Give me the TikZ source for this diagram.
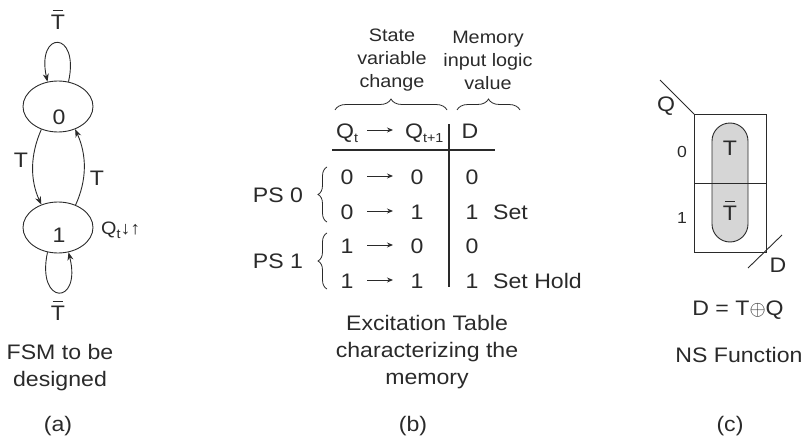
\documentclass[tikz,border=0pt]{standalone}
\usepackage{fontspec}
\setmainfont[FakeStretch=1.1]{Liberation Sans}
\usetikzlibrary{shapes.geometric,arrows.meta,decorations.pathreplacing}
\definecolor{ink}{HTML}{2A2A2A}
\definecolor{pill}{HTML}{D6D6D6}
\newcommand{\tbar}{\ooalign{T\cr\hidewidth\rule[0.86em]{0.5em}{0.055em}\hidewidth\cr}}
\newcommand{\lowsub}[1]{\raisebox{-0.42ex}{\fontsize{13}{13}\selectfont #1}}
\begin{document}
\begin{tikzpicture}[x=1pt,y=-1pt,
  every node/.style={inner sep=0pt, text=ink},
  txt/.style={font=\fontsize{21}{27}\selectfont},
  sm/.style={font=\fontsize{18}{23}\selectfont},
  tiny/.style={font=\fontsize{16}{20}\selectfont},
  ell/.style={ellipse, draw=ink, line width=0.9pt, minimum width=70pt, minimum height=51pt},
  arr/.style={draw=ink, line width=0.9pt, -{Stealth[length=8pt,width=6pt]}},
  tarr/.style={draw=ink, line width=0.9pt, -{Stealth[length=6pt,width=5pt]}},
  rule/.style={draw=ink, line width=1.1pt},
  brc/.style={draw=ink, line width=0.8pt, decorate, decoration={brace, amplitude=11pt}},
  lbrc/.style={draw=ink, line width=0.8pt, decorate, decoration={brace, amplitude=9pt}}]
\useasboundingbox (0,0) rectangle (804,439);

% ---------- (a) FSM ----------
\node[ell] (s0) at (58,106.5) {};
\node[txt] (s0l) at (59,117) {0};
\node[ell] (s1) at (58,227.5) {};
\node[txt] (s1l) at (59,235) {1};
\draw[arr] (s0.67) .. controls (80,30) and (36,30) .. (s0.113);
\draw[arr] (s1.247) .. controls (36,306) and (82,306) .. (s1.293);
\draw[arr] (s0.234) .. controls (30,155) and (30,180) .. (s1.126);
\draw[arr] (s1.52) .. controls (87,180) and (87,155) .. (s0.307);
\node[txt] (tb1) at (58,22) {\tbar};
\node[txt] (tb2) at (58,313) {\tbar};
\node[txt] (tl) at (21,160) {T};
\node[txt] (tr) at (97,178) {T};
\node[sm, anchor=west] (qt) at (101,230) {Q\lowsub{t}↓↑};
\node[txt, align=center] (capa) at (60,368) {FSM to be\\designed};
\node[txt] (la) at (58,426) {(a)};

% ---------- (b) Excitation table ----------
\node[sm, align=center] (h1) at (392,60) {State\\variable\\change};
\node[sm, align=center] (h2) at (488,60) {Memory\\input logic\\value};
\draw[brc] (335,110) -- (447,110);
\draw[brc] (457,110) -- (520,110);

\node[txt, anchor=base west] (hq) at (336,138) {Q\lowsub{t}};
\node[txt, anchor=base west] (hq1) at (405,138) {Q\lowsub{t+1}};
\node[txt] (hd) at (470,131) {D};
\coordinate (ha1) at (367,130); \coordinate (ha2) at (393,130);
\draw[tarr] (ha1) -- (ha2);
\coordinate (hl1) at (332,150); \coordinate (hl2) at (495,150);
\draw[rule] (hl1) -- (hl2);
\coordinate (vl1) at (449,124); \coordinate (vl2) at (449,287);
\draw[rule] (vl1) -- (vl2);

\node[txt] (r1a) at (347,177) {0};
\node[txt] (r1b) at (417,177) {0};
\node[txt] (r1d) at (472,177) {0};
\node[txt] (r2a) at (347,212) {0};
\node[txt] (r2b) at (417,212) {1};
\node[txt] (r2d) at (472,212) {1};
\node[txt, anchor=west] (r2n) at (493,212) {Set};
\node[txt] (r3a) at (347,246) {1};
\node[txt] (r3b) at (417,246) {0};
\node[txt] (r3d) at (472,246) {0};
\node[txt] (r4a) at (347,281) {1};
\node[txt] (r4b) at (417,281) {1};
\node[txt] (r4d) at (472,281) {1};
\node[txt, anchor=west] (r4n) at (493,281) {Set Hold};
\foreach \yy in {176,211,245,280}{
  \coordinate (ta) at (367,\yy); \coordinate (tb) at (393,\yy);
  \draw[tarr] (ta) -- (tb);
}

\node[txt] (ps0) at (278,195) {PS 0};
\node[txt] (ps1) at (278,261) {PS 1};
\draw[lbrc] (327,222) -- (327,167);
\draw[lbrc] (327,289) -- (327,233);

\node[txt, align=center] (capb) at (427,352) {Excitation Table\\characterizing the\\memory};
\node[txt] (lb) at (413,426) {(b)};

% ---------- (c) K-map ----------
\draw[draw=ink, line width=0.9pt, fill=pill, rounded corners=18pt] (712,123) rectangle (748,242);
\draw[draw=ink, line width=0.9pt] (694,114) rectangle (766,252);
\coordinate (km1) at (694,183); \coordinate (km2) at (766,183);
\draw[draw=ink, line width=0.9pt] (km1) -- (km2);
\coordinate (qd1) at (660,80); \coordinate (qd2) at (694,114);
\draw[draw=ink, line width=0.9pt] (qd1) -- (qd2);
\coordinate (dd1) at (748,268); \coordinate (dd2) at (782,235);
\draw[draw=ink, line width=0.9pt] (dd1) -- (dd2);
\node[txt] (kq) at (666,106) {Q};
\node[txt] (kd) at (778,265) {D};
\node[tiny] (k0) at (682,152) {0};
\node[tiny] (k1) at (682,218) {1};
\node[txt] (kt) at (730,148) {T};
\node[txt] (ktb) at (730,213) {\tbar};
\node[txt] (eq) at (738,310) {D = T$\oplus$Q};
\node[txt] (ns) at (739,355) {NS Function};
\node[txt] (lc) at (730,426) {(c)};
\end{tikzpicture}
\end{document}
